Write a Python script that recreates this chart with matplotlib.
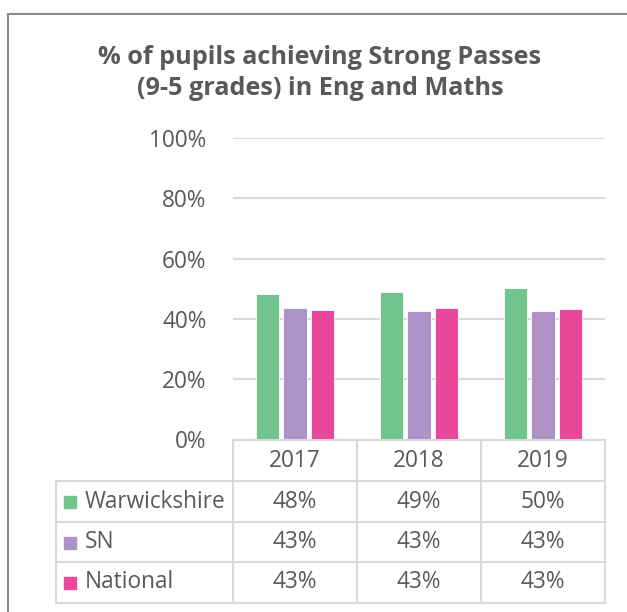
import matplotlib
matplotlib.use("Agg")
import matplotlib.pyplot as plt
from matplotlib.patches import Rectangle
import numpy as np

# data
years = ["2017", "2018", "2019"]
series = ["Warwickshire", "SN", "National"]
warwickshire = [48.4, 48.9, 50.1]
sn = [43.5, 42.7, 42.6]
national = [42.9, 43.5, 43.3]
table_labels = [["48%", "49%", "50%"],
                ["43%", "43%", "43%"],
                ["43%", "43%", "43%"]]
yticks = [0, 20, 40, 60, 80, 100]

colors = ["#70C48C", "#AC92C6", "#E8479A"]
txt = "#595959"
grid = "#D9D9D9"
fs = 16.3

plt.rcParams["font.family"] = ["Open Sans", "DejaVu Sans"]

W, H = 627, 612
fig = plt.figure(figsize=(W / 100, H / 100), dpi=100)

# outer chart border (runs off right/bottom edge)
fig.patches.append(Rectangle((8 / W, -0.1), 1.0, (H - 14) / H + 0.1, transform=fig.transFigure,
                             fill=False, edgecolor="#8C8C8C", linewidth=1.5))

fig.text(320 / W, 1 - 73 / H, "% of pupils achieving Strong Passes\n(9-5 grades) in Eng and Maths",
         ha="center", va="center", fontsize=18.2, fontweight="bold", color=txt, linespacing=1.3)

# plot area
x0, x1, y0, y1 = 233, 605, 439.5, 138
ax = fig.add_axes([x0 / W, 1 - y0 / H, (x1 - x0) / W, (y0 - y1) / H])
x = np.arange(len(years))
bw = 0.188
step = 0.222
for i, (vals, c) in enumerate(zip([warwickshire, sn, national], colors)):
    ax.bar(x + (i - 1) * step, vals, bw, color=c, edgecolor="white", linewidth=0.6, zorder=3)
ax.set_xlim(-0.5, len(years) - 0.5)
ax.set_ylim(0, 100)
ax.set_yticks(yticks)
ax.set_yticklabels([f"{t}%" for t in yticks])
ax.tick_params(axis="y", length=0, pad=19, labelsize=fs, labelcolor=txt)
ax.set_xticks([])
ax.grid(axis="y", color=grid, linewidth=1.5, zorder=0)
for s in ax.spines.values():
    s.set_visible(False)

# data table
tax = fig.add_axes([0, 0, 1, 1])
tax.set_xlim(0, W)
tax.set_ylim(H, 0)
tax.axis("off")
cols = [233, 357, 481, 605]
rows = [439.5, 481, 522, 562, 603]
left = 56
lkw = dict(color=grid, linewidth=1.5)
tax.plot([cols[0], cols[-1]], [rows[0], rows[0]], **lkw)
for r in rows[1:]:
    tax.plot([left, cols[-1]], [r, r], **lkw)
for c in cols:
    tax.plot([c, c], [rows[0], rows[-1]], **lkw)
tax.plot([left, left], [rows[1], rows[-1]], **lkw)

for j, yr in enumerate(years):
    cx = (cols[j] + cols[j + 1]) / 2
    tax.text(cx, (rows[0] + rows[1]) / 2 + 1, yr, ha="center", va="center", fontsize=fs, color=txt)
for i, name in enumerate(series):
    cy = (rows[i + 1] + rows[i + 2]) / 2
    tax.add_patch(Rectangle((64, cy - 5.5), 12, 12, color=colors[i]))
    tax.text(85, cy, name, ha="left", va="center", fontsize=fs, color=txt)
    for j in range(len(years)):
        cx = (cols[j] + cols[j + 1]) / 2
        tax.text(cx, cy, table_labels[i][j], ha="center", va="center", fontsize=fs, color=txt)

fig.savefig("out.png", dpi=100)
